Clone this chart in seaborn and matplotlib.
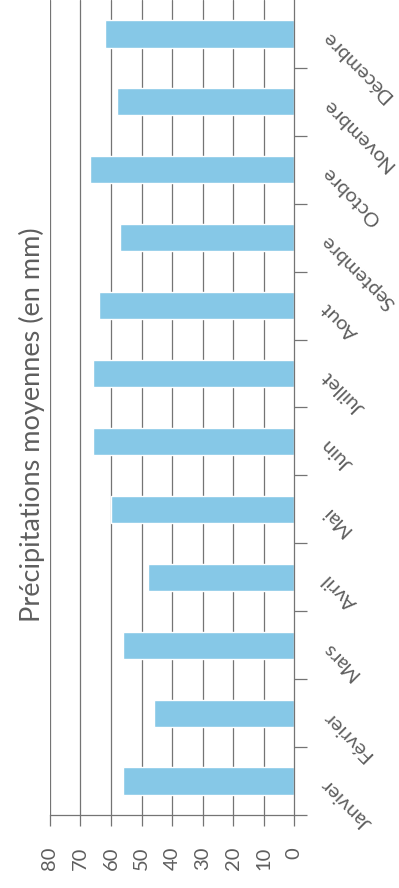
import matplotlib
matplotlib.use("Agg")
import matplotlib.pyplot as plt
import seaborn as sns
import pandas as pd
import numpy as np

# Mean monthly precipitation (mm)
months = ["Janvier", "Février", "Mars", "Avril", "Mai", "Juin",
          "Juillet", "Aout", "Septembre", "Octobre", "Novembre", "Décembre"]
precip = [56, 46, 56, 48, 60, 66, 66, 64, 57, 67, 58, 62]
value_ticks = [0, 10, 20, 30, 40, 50, 60, 70, 80]
title = "Précipitations moyennes (en mm)"

sns.set_style("white")
plt.rcParams["font.family"] = ["Lato", "DejaVu Sans"]

text_color = "#5e5e5e"
grid_color = "#747474"
bar_color = "#86c8e7"

df = pd.DataFrame({"mois": months, "mm": precip})

fig = plt.figure(figsize=(3.99, 8.88), dpi=100)
ax = fig.add_axes([50 / 399, 73 / 888, 244 / 399, 815 / 888])

# December on top, January at the bottom, bars growing to the left
sns.barplot(data=df, x="mm", y="mois", order=months[::-1], orient="h",
            color=bar_color, width=0.4, saturation=1, ax=ax)

ax.set_xlim(80, 0)
ax.set_ylim(11.5, -0.5)

for v in value_ticks[1:]:
    ax.axvline(v, color=grid_color, lw=0.9, zorder=0)

ax.set_xticks(value_ticks)
ax.set_xticklabels([str(v) for v in value_ticks], rotation=90,
                   color=text_color, fontsize=14.5)
ax.tick_params(axis="x", direction="out", length=8, width=0.9,
               color=grid_color, pad=15, bottom=True)

ax.yaxis.tick_right()
ax.set_yticks(np.arange(len(months)))
ax.set_yticklabels(months[::-1], rotation=135, rotation_mode="anchor",
                   ha="right", va="center", color=text_color, fontsize=14.5)
ax.tick_params(axis="y", which="major", length=0, pad=22)
ax.set_yticks(np.arange(0.5, len(months), 1.0), minor=True)
ax.tick_params(axis="y", which="minor", direction="out", length=9,
               width=0.9, color=grid_color, right=True, left=False)

for side in ["top", "left"]:
    ax.spines[side].set_visible(False)
for side in ["bottom", "right"]:
    ax.spines[side].set_color(grid_color)
    ax.spines[side].set_linewidth(0.9)

ax.set_xlabel("")
ax.set_ylabel("")

fig.text(32 / 399, 1 - 425 / 888, title, rotation=90, ha="center",
         va="center", color=text_color, fontsize=19.5)

fig.savefig("out.png", dpi=100)
